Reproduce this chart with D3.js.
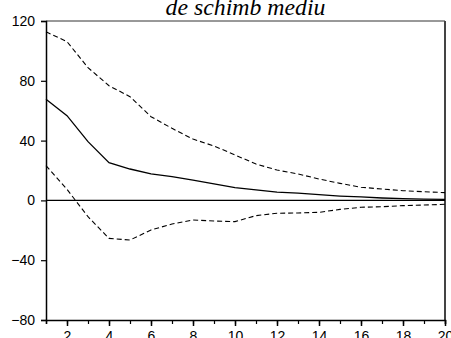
<!DOCTYPE html>
<html>
<head>
<meta charset="utf-8">
<script src="https://cdn.jsdelivr.net/npm/d3@7/dist/d3.min.js"></script>
<style>
  html, body { margin: 0; padding: 0; background: #fff; }
  svg { display: block; }
  .title { font-family: "Liberation Serif", "Times New Roman", "DejaVu Serif", serif; font-style: italic; font-size: 23px; }
  .tick text { font-family: "Liberation Sans", Arial, Helvetica, sans-serif; font-size: 14px; }
</style>
</head>
<body>
<svg id="chart" width="451" height="338"></svg>
<script>
// Impulse response over 20 periods with a +/- 2 S.E. band
const periods = d3.range(1, 21);
const response = [67.6, 56.7, 39.3, 25.2, 21.0, 17.7, 15.9, 13.6, 11.0, 8.6,
                  7.0, 5.6, 4.9, 3.8, 2.9, 2.3, 1.6, 1.2, 0.9, 0.7];
const upperBand = [112.8, 106.2, 88.8, 76.7, 69.4, 56.0, 48.2, 41.0, 36.4, 30.4,
                   24.3, 20.3, 17.7, 14.3, 11.4, 8.8, 7.6, 6.5, 5.8, 5.2];
const lowerBand = [23.2, 7.4, -10.9, -25.4, -26.5, -19.8, -15.8, -13.1, -13.8, -14.2,
                   -10.2, -8.6, -8.4, -8.0, -6.0, -4.6, -4.2, -3.5, -3.1, -2.6];
const yTicks = [-80, -40, 0, 40, 80, 120];
const xLabelTicks = [2, 4, 6, 8, 10, 12, 14, 16, 18, 20];
const titleText = "de schimb mediu";

const svg = d3.select("#chart");
const plotLeft = 46, plotRight = 445, plotTop = 21, plotBottom = 320;

const x = d3.scaleLinear().domain([1, 20]).range([plotLeft, plotRight]);
const y = d3.scaleLinear().domain([-80, 120]).range([plotBottom, plotTop]);

// title, fitted to the width it spans above the plot
const title = svg.append("text")
  .attr("class", "title")
  .attr("x", (plotLeft + plotRight) / 2)
  .attr("y", 15)
  .attr("text-anchor", "middle")
  .attr("fill", "#000")
  .text(titleText);
const tw = title.node().getComputedTextLength();
if (tw > 0) title.style("font-size", (23 * 160 / tw).toFixed(2) + "px");

// frame: top and right edges
svg.append("line").attr("x1", plotLeft).attr("x2", plotRight).attr("y1", plotTop).attr("y2", plotTop)
  .attr("stroke", "#333").attr("stroke-width", 1);
svg.append("line").attr("x1", plotRight).attr("x2", plotRight).attr("y1", plotTop).attr("y2", plotBottom)
  .attr("stroke", "#444").attr("stroke-width", 2);

// left axis
const yAxis = d3.axisLeft(y).tickValues(yTicks).tickSize(5).tickPadding(6).tickFormat(d3.format("d"));
const gy = svg.append("g").attr("transform", `translate(${plotLeft},0)`).call(yAxis);
gy.attr("font-family", null).attr("font-size", null);
gy.select(".domain").attr("stroke", "#000").attr("stroke-width", 1.5);
gy.selectAll(".tick line").attr("stroke", "#000").attr("stroke-width", 1.2);
gy.selectAll(".tick text").attr("fill", "#000");

// bottom axis: minor ticks every period, labels on even periods
const xMinor = d3.axisBottom(x).tickValues(periods).tickSize(4).tickFormat("");
const gxm = svg.append("g").attr("transform", `translate(0,${plotBottom})`).call(xMinor);
gxm.select(".domain").attr("stroke", "#000").attr("stroke-width", 1.5);
gxm.selectAll(".tick line").attr("stroke", "#000").attr("stroke-width", 1.2);

const xAxis = d3.axisBottom(x).tickValues(xLabelTicks).tickSize(6).tickPadding(5).tickFormat(d3.format("d"));
const gx = svg.append("g").attr("transform", `translate(0,${plotBottom})`).call(xAxis);
gx.attr("font-family", null).attr("font-size", null);
gx.select(".domain").remove();
gx.selectAll(".tick line").attr("stroke", "#000").attr("stroke-width", 1.5);
gx.selectAll(".tick text").attr("fill", "#000");

// zero line
svg.append("line").attr("x1", plotLeft).attr("x2", plotRight).attr("y1", y(0)).attr("y2", y(0))
  .attr("stroke", "#000").attr("stroke-width", 1.2);

const line = d3.line().x((d, i) => x(periods[i])).y(d => y(d));

svg.append("path").datum(upperBand).attr("d", line)
  .attr("fill", "none").attr("stroke", "#000").attr("stroke-width", 1.1)
  .attr("stroke-dasharray", "5,3");
svg.append("path").datum(lowerBand).attr("d", line)
  .attr("fill", "none").attr("stroke", "#000").attr("stroke-width", 1.1)
  .attr("stroke-dasharray", "5,3");
svg.append("path").datum(response).attr("d", line)
  .attr("fill", "none").attr("stroke", "#000").attr("stroke-width", 1.3);
</script>
</body>
</html>
